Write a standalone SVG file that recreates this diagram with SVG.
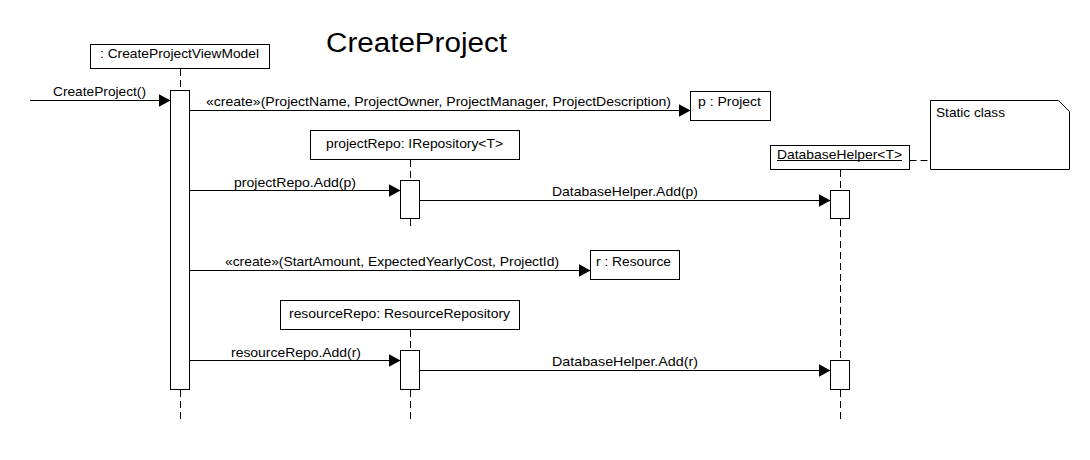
<svg xmlns="http://www.w3.org/2000/svg" width="1090" height="460" viewBox="0 0 1090 460">
<style>
text{font-family:"Liberation Sans",Arial,sans-serif;font-size:13px;fill:#000}
.title{font-size:27px}
.box{fill:#fff;stroke:#000;stroke-width:1}
.life{stroke:#000;stroke-width:1;stroke-dasharray:7,4;fill:none}
.msg{stroke:#000;stroke-width:1;fill:none;marker-end:url(#arr)}
</style>
<defs>
<marker id="arr" markerWidth="12" markerHeight="13" refX="12" refY="6.5" orient="auto" markerUnits="userSpaceOnUse">
<path d="M0,0 L12,6.5 L0,13 Z" fill="#000"/>
</marker>
</defs>
<rect width="1090" height="460" fill="#fff"/>
<text class="title" x="326" y="52" textLength="181" lengthAdjust="spacingAndGlyphs">CreateProject</text>

<g id="lifelines">
<line class="life" x1="180.5" y1="69" x2="180.5" y2="90"/>
<line class="life" x1="180.5" y1="390" x2="180.5" y2="421"/>
<line class="life" x1="410.5" y1="160" x2="410.5" y2="180"/>
<line class="life" x1="410.5" y1="219" x2="410.5" y2="229"/>
<line class="life" x1="410.5" y1="330" x2="410.5" y2="350"/>
<line class="life" x1="410.5" y1="390" x2="410.5" y2="421"/>
<line class="life" x1="840.5" y1="170" x2="840.5" y2="190"/>
<line class="life" x1="840.5" y1="219" x2="840.5" y2="360"/>
<line class="life" x1="840.5" y1="390" x2="840.5" y2="421"/>
</g>

<g id="viewModel">
<rect class="box" x="90.5" y="44.5" width="179" height="24"/>
<text x="100" y="58" textLength="159" lengthAdjust="spacingAndGlyphs">: CreateProjectViewModel</text>
<rect class="box" x="170.5" y="90.5" width="19" height="299"/>
</g>

<g id="project">
<rect class="box" x="690.5" y="91.5" width="80" height="29"/>
<text x="698" y="106" textLength="63" lengthAdjust="spacingAndGlyphs">p : Project</text>
</g>

<g id="projectRepo">
<rect class="box" x="310.5" y="130.5" width="209" height="29"/>
<text x="326" y="148" textLength="177" lengthAdjust="spacingAndGlyphs">projectRepo: IRepository&lt;T&gt;</text>
<rect class="box" x="400.5" y="180.5" width="19" height="38"/>
</g>

<g id="databaseHelper">
<rect class="box" x="770.5" y="145.5" width="139" height="24"/>
<text x="777" y="158.5" textLength="125" lengthAdjust="spacingAndGlyphs">DatabaseHelper&lt;T&gt;</text>
<line x1="777" y1="160.5" x2="902" y2="160.5" stroke="#000" stroke-width="1"/>
<rect class="box" x="830.5" y="190.5" width="19" height="28"/>
<rect class="box" x="830.5" y="360.5" width="19" height="29"/>
</g>

<g id="note">
<path class="box" d="M930.5,100.5 H1058.5 L1069.5,111.5 V169.5 H930.5 Z"/>
<text x="936" y="117" textLength="69" lengthAdjust="spacingAndGlyphs">Static class</text>
</g>

<g id="resource">
<rect class="box" x="590.5" y="250.5" width="89" height="29"/>
<text x="596" y="266" textLength="75" lengthAdjust="spacingAndGlyphs">r : Resource</text>
</g>

<g id="resourceRepo">
<rect class="box" x="280.5" y="300.5" width="239" height="29"/>
<text x="289" y="318" textLength="221" lengthAdjust="spacingAndGlyphs">resourceRepo: ResourceRepository</text>
<rect class="box" x="400.5" y="350.5" width="19" height="39"/>
</g>

<g id="connectors">
<line class="msg" x1="30" y1="100.5" x2="170.5" y2="100.5"/>
<text x="53" y="96" textLength="93" lengthAdjust="spacingAndGlyphs">CreateProject()</text>
<line class="msg" x1="189.5" y1="110.5" x2="690.5" y2="110.5"/>
<text x="206" y="106" textLength="465" lengthAdjust="spacingAndGlyphs">«create»(ProjectName, ProjectOwner, ProjectManager, ProjectDescription)</text>
<line class="msg" x1="189.5" y1="190.5" x2="400.5" y2="190.5"/>
<text x="234" y="186.5" textLength="122" lengthAdjust="spacingAndGlyphs">projectRepo.Add(p)</text>
<line class="msg" x1="419.5" y1="200.5" x2="830.5" y2="200.5"/>
<text x="552" y="196" textLength="146" lengthAdjust="spacingAndGlyphs">DatabaseHelper.Add(p)</text>
<line x1="909.5" y1="160.5" x2="930.5" y2="160.5" stroke="#000" stroke-width="1" stroke-dasharray="7,4"/>
<line class="msg" x1="189.5" y1="270.5" x2="590.5" y2="270.5"/>
<text x="225" y="266" textLength="334" lengthAdjust="spacingAndGlyphs">«create»(StartAmount, ExpectedYearlyCost, ProjectId)</text>
<line class="msg" x1="189.5" y1="360.5" x2="400.5" y2="360.5"/>
<text x="231" y="356.5" textLength="130" lengthAdjust="spacingAndGlyphs">resourceRepo.Add(r)</text>
<line class="msg" x1="419.5" y1="370.5" x2="830.5" y2="370.5"/>
<text x="552" y="366" textLength="146" lengthAdjust="spacingAndGlyphs">DatabaseHelper.Add(r)</text>
</g>
</svg>
